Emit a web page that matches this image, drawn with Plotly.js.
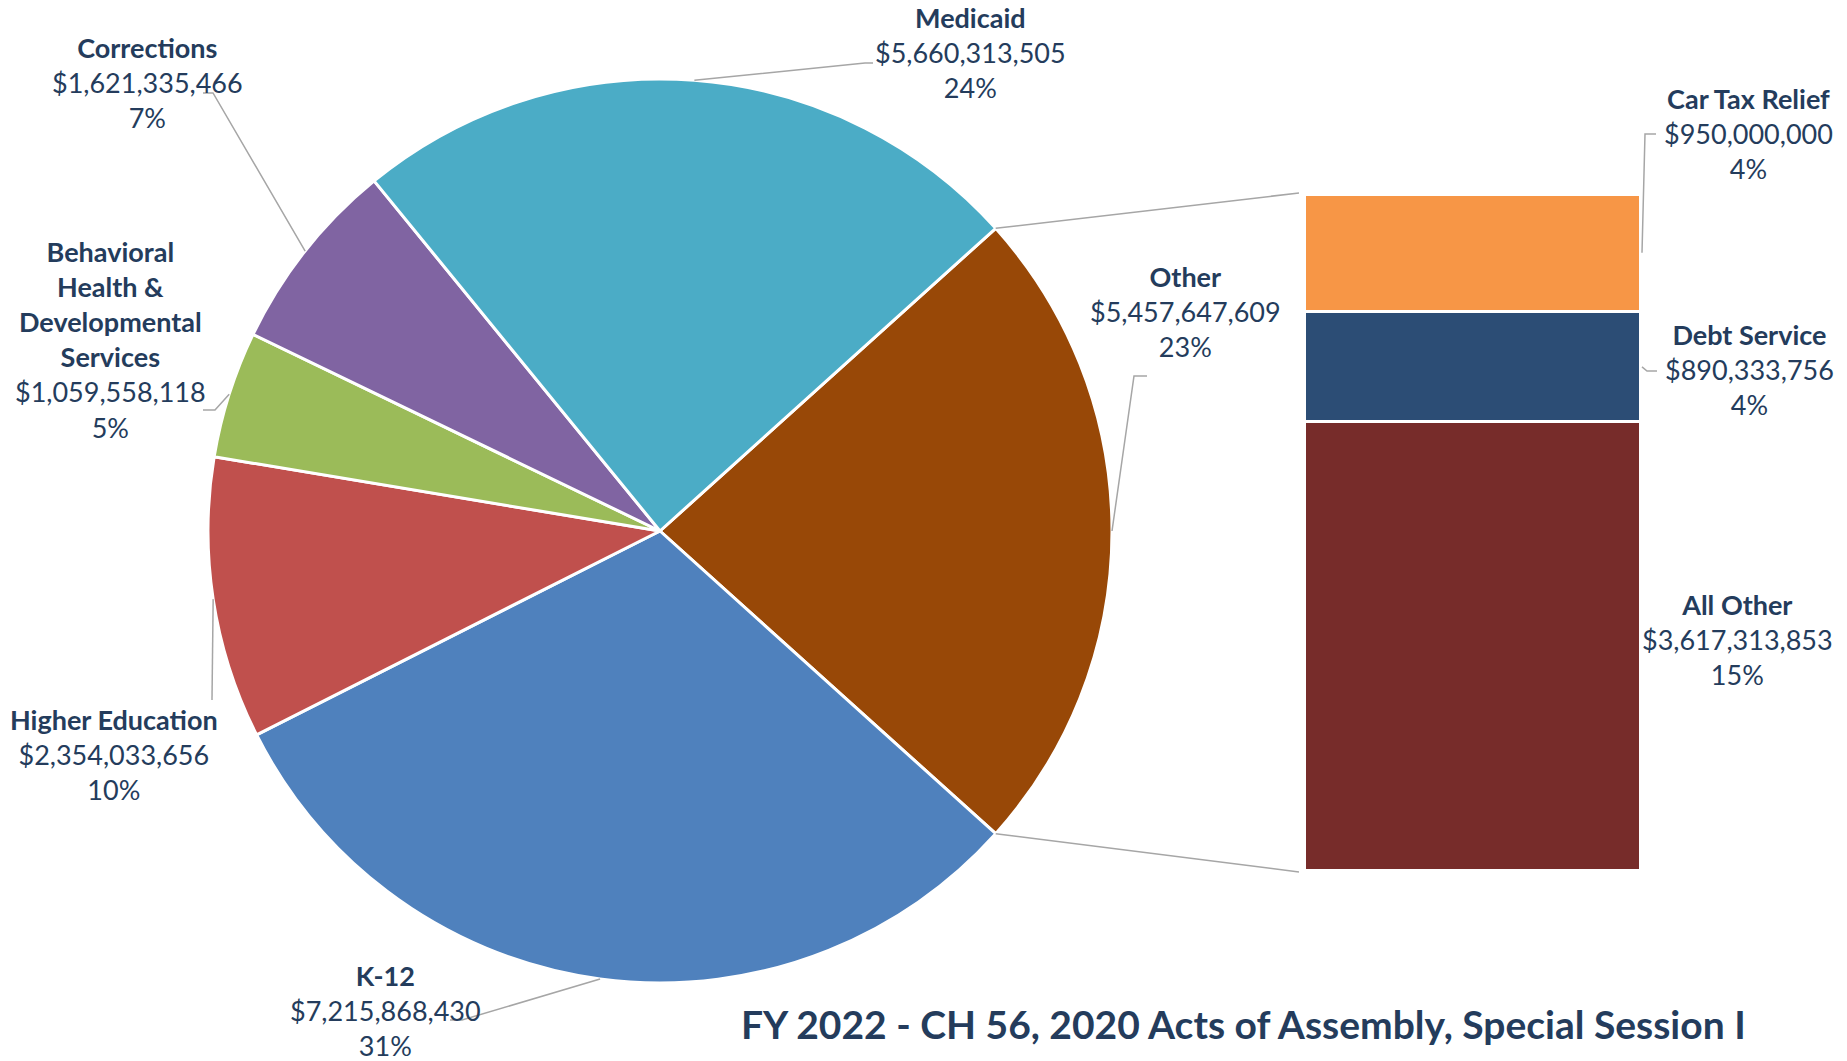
<!DOCTYPE html>
<html><head><meta charset="utf-8">
<script src="https://cdn.plot.ly/plotly-3.0.1.min.js"></script>
<style>html,body{margin:0;padding:0;background:#fff}#chart{width:1847px;height:1061px}</style>
</head><body><div id="chart"></div>
<script>
// ---- data ----
const categories = ['Other', 'K-12', 'Higher Education', 'Behavioral Health & Developmental Services', 'Corrections', 'Medicaid'];
const values = [5457647609, 7215868430, 2354033656, 1059558118, 1621335466, 5660313505];
const labelNames = ['Other', 'K-12', 'Higher Education', 'Behavioral<br>Health &amp;<br>Developmental<br>Services', 'Corrections', 'Medicaid'];
const pieColors = ['#984807', '#4F81BD', '#C0504D', '#9BBB59', '#8064A2', '#4BACC6'];

const subCategories = ['All Other', 'Debt Service', 'Car Tax Relief'];
const subValues = [3617313853, 890333756, 950000000];
const subColors = ['#772C2A', '#2C4D75', '#F79646'];

const titleText = 'FY 2022 - CH 56, 2020 Acts of Assembly, Special Session I';

// ---- layout geometry ----
const W = 1847, H = 1061;
const cx = 660, cy = 531, R = 452;          // pie centre / radius (px)
const barL = 1304, barR = 1640, barT = 194, barB = 870; // bar box (px)
const textColor = '#243C5C';
const lineColor = '#A6A6A6';
const FONT = 'Lato, "Open Sans", sans-serif';

const total = values.reduce((a, b) => a + b, 0);
const otherTotal = subValues.reduce((a, b) => a + b, 0);
const rotation = 90 - (values[0] / total * 360) / 2;

const px = x => x / W;
const py = y => 1 - y / H;
const pt = a => [cx + R * Math.sin(a * Math.PI / 180), cy - R * Math.cos(a * Math.PI / 180)];
const fmt = v => '$' + v.toLocaleString('en-US');
const pct = v => Math.round(v / total * 100) + '%';

// label placement (px): centre of text block, and leader elbow/end
const pieLabelPos = {
  'Other':             {x: 1185, y: 312, elbow: [1134, 376], end: [1147, 376]},
  'K-12':              {x: 385,  y: 1010, elbow: [462, 1020], end: [450, 1020]},
  'Higher Education':  {x: 114,  y: 754, elbow: [212, 700], end: [212, 700]},
  'Behavioral Health & Developmental Services': {x: 110, y: 340, elbow: [215, 410], end: [203, 410]},
  'Corrections':       {x: 147,  y: 82,  elbow: [213, 93], end: [203, 93]},
  'Medicaid':          {x: 971,  y: 53,  elbow: [865, 63], end: [873, 63]}
};
const subLabelPos = {
  'All Other':      {x: 1737, y: 639},
  'Debt Service':   {x: 1749, y: 369, elbow: [1647, 371], end: [1657, 371]},
  'Car Tax Relief': {x: 1748, y: 133, elbow: [1645, 134], end: [1656, 134]}
};

const annotations = [];
const shapes = [];

function pathPaper(points) {
  return points.map((p, i) => (i ? 'L' : 'M') + px(p[0]).toFixed(5) + ',' + py(p[1]).toFixed(5)).join(' ');
}

// pie labels + leaders
let cum = 0;
values.forEach((v, i) => {
  const span = v / total * 360;
  const mid = rotation + cum + span / 2;
  cum += span;
  const pos = pieLabelPos[categories[i]];
  annotations.push({
    xref: 'paper', yref: 'paper', x: px(pos.x), y: py(pos.y),
    xanchor: 'center', yanchor: 'middle', align: 'center', showarrow: false,
    text: '<b>' + labelNames[i] + '</b><br>' + fmt(v) + '<br>' + pct(v),
    font: {family: FONT, size: 27, color: textColor}
  });
  shapes.push({type: 'path', xref: 'paper', yref: 'paper',
    path: pathPaper([pt(mid), pos.elbow, pos.end]),
    line: {color: lineColor, width: 1.5}});
});

// bar labels + leaders
let acc = 0;
subValues.forEach((v, i) => {
  const midVal = acc + v / 2;
  acc += v;
  const pos = subLabelPos[subCategories[i]];
  annotations.push({
    xref: 'paper', yref: 'paper', x: px(pos.x), y: py(pos.y),
    xanchor: 'center', yanchor: 'middle', align: 'center', showarrow: false,
    text: '<b>' + subCategories[i] + '</b><br>' + fmt(v) + '<br>' + pct(v),
    font: {family: FONT, size: 27, color: textColor}
  });
  if (pos.elbow) {
    const yMid = barB - midVal / otherTotal * (barB - barT);
    shapes.push({type: 'path', xref: 'paper', yref: 'paper',
      path: pathPaper([[barR + 2, yMid], pos.elbow, pos.end]),
      line: {color: lineColor, width: 1.5}});
  }
});

// connectors from "Other" slice to the bar
const otherSpan = values[0] / total * 360;
shapes.push({type: 'path', xref: 'paper', yref: 'paper',
  path: pathPaper([pt(rotation), [barL - 5, barT - 1]]), line: {color: lineColor, width: 1.5}});
shapes.push({type: 'path', xref: 'paper', yref: 'paper',
  path: pathPaper([pt(rotation + otherSpan), [barL - 5, barB + 2]]), line: {color: lineColor, width: 1.5}});

// title
annotations.push({
  xref: 'paper', yref: 'paper', x: px(1243), y: py(1024),
  xanchor: 'center', yanchor: 'middle', showarrow: false,
  text: '<b>' + titleText + '</b>',
  font: {family: FONT, size: 39, color: textColor}
});

const traces = [{
  type: 'pie', values: values, labels: categories, sort: false,
  direction: 'clockwise', rotation: rotation,
  marker: {colors: pieColors, line: {color: '#FFFFFF', width: 3}},
  textinfo: 'none', hoverinfo: 'none', showlegend: false,
  domain: {x: [px(cx - R), px(cx + R)], y: [py(cy + R), py(cy - R)]}
}];
subValues.forEach((v, i) => {
  traces.push({
    type: 'bar', x: [0], y: [v], width: 1, name: subCategories[i],
    marker: {color: subColors[i], line: {color: '#FFFFFF', width: 3}},
    hoverinfo: 'none', showlegend: false, xaxis: 'x', yaxis: 'y'
  });
});

const layout = {
  width: W, height: H, margin: {l: 0, r: 0, t: 0, b: 0},
  paper_bgcolor: '#FFFFFF', plot_bgcolor: 'rgba(0,0,0,0)',
  showlegend: false, barmode: 'stack',
  xaxis: {domain: [px(barL), px(barR)], range: [-0.5, 0.5], visible: false, fixedrange: true},
  yaxis: {domain: [py(barB), py(barT)], range: [0, otherTotal], visible: false, fixedrange: true},
  annotations: annotations, shapes: shapes
};

Plotly.newPlot('chart', traces, layout, {displayModeBar: false, staticPlot: true});
</script>
</body></html>
